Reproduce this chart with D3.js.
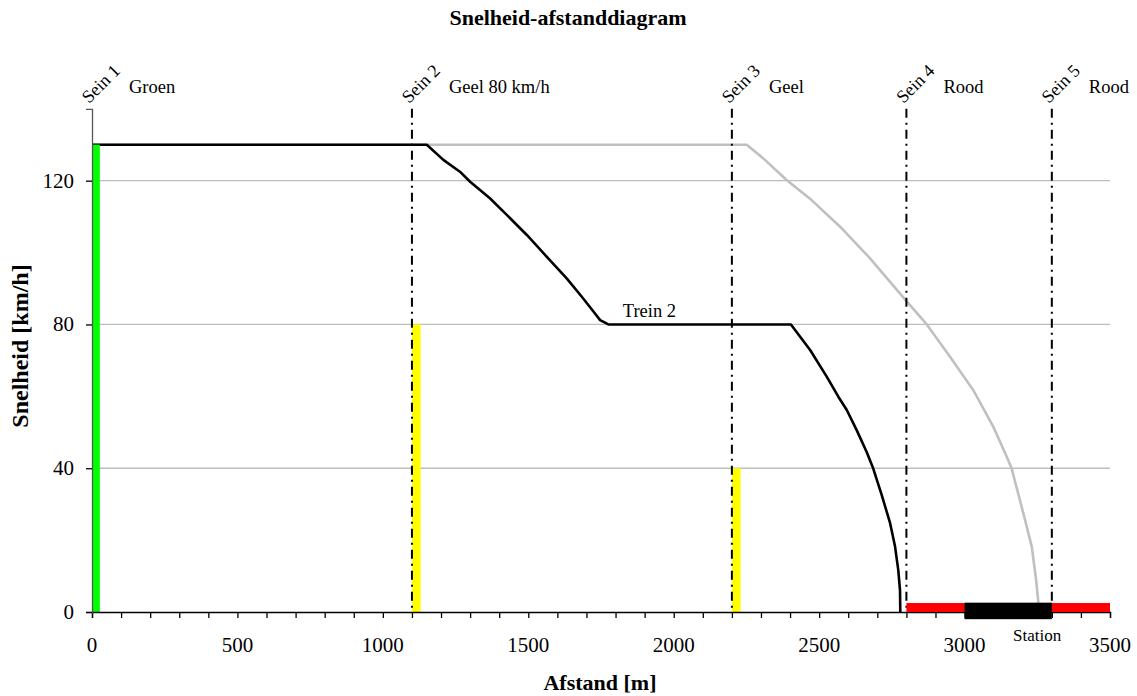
<!DOCTYPE html>
<html>
<head>
<meta charset="utf-8">
<script src="https://cdn.jsdelivr.net/npm/d3@7"></script>
<style>
  html, body { margin: 0; padding: 0; background: #ffffff; }
  svg { display: block; }
  text { font-family: "Liberation Serif", "Times New Roman", serif; fill: #000; }
</style>
</head>
<body>
<svg id="chart" width="1137" height="696"></svg>
<script>
// Snelheid-afstanddiagram: snelheid van twee treinen langs een baanvak met vijf seinen

// Trein 2 (zwart): afstand [m] en snelheid [km/h]
const trein2Afstand = [0, 1151, 1208, 1265, 1300, 1334, 1368, 1426, 1495, 1563, 1632, 1684, 1724, 1747, 1775,
  2403, 2469, 2526, 2566, 2595, 2629, 2663, 2686, 2715, 2744, 2761, 2772, 2778, 2779];
const trein2Snelheid = [130, 130, 125.8, 122.5, 119.7, 117.4, 115.1, 110.5, 104.9, 98.9, 92.8, 87.7, 83.6, 81.2, 80,
  80, 72.9, 65.5, 59.9, 56.2, 50.6, 44.6, 39.9, 32.6, 24.7, 18.2, 11.7, 6.1, 0];

// Remcurve bij ongehinderde rit (grijs)
const vrijAfstand = [0, 2251, 2308, 2388, 2474, 2572, 2675, 2798, 2870, 2950, 3030, 3099, 3145, 3162, 3208, 3231, 3246, 3254, 3256];
const vrijSnelheid = [130, 130, 126.2, 120.2, 114.6, 107.2, 98.4, 86.7, 80, 71, 61.7, 51.5, 43.2, 39.9, 25.6, 18.2, 8.9, 2.4, 0];

// Seinen
const seinAfstand = [0, 1100, 2200, 2800, 3300];
const seinNaam = ["Sein 1", "Sein 2", "Sein 3", "Sein 4", "Sein 5"];
const seinBeeld = ["Groen", "Geel 80 km/h", "Geel", "Rood", "Rood"];

// Toegestane snelheid die het sein aangeeft (gekleurde balken)
const balkVan = [0, 1100, 2200];
const balkTot = [27, 1130, 2230];
const balkSnelheid = [130, 80, 40];

// Rood spoor en station
const roodVan = 2800, roodTot = 3500, roodHoogte = 2.5;
const stationVan = 3000, stationTot = 3300, stationOnder = -2, stationBoven = 2.6;

// As-ticks
const xTicks = [0, 500, 1000, 1500, 2000, 2500, 3000, 3500];
const yTicks = [0, 40, 80, 120];

const balkKleur = ["#00ff00", "#ffff00", "#ffff00"];

const svg = d3.select("#chart");
const x = d3.scaleLinear().domain([0, 3500]).range([92, 1110]);
const y = d3.scaleLinear().domain([0, 140]).range([612, 108.8]);

// Rasterlijnen
svg.append("g").selectAll("line").data(yTicks.filter(d => d > 0)).join("line")
  .attr("x1", x(0)).attr("x2", x(3500))
  .attr("y1", d => y(d)).attr("y2", d => y(d))
  .attr("stroke", "#bdbdbd").attr("stroke-width", 1.3);

const lijn = d3.line().x(d => x(d[0])).y(d => y(d[1]));

// Grijze remcurve
svg.append("path").datum(d3.zip(vrijAfstand, vrijSnelheid))
  .attr("d", lijn).attr("fill", "none")
  .attr("stroke", "#c0c0c0").attr("stroke-width", 2.6).attr("stroke-linejoin", "round");

// Trein 2
svg.append("path").datum(d3.zip(trein2Afstand, trein2Snelheid))
  .attr("d", lijn).attr("fill", "none")
  .attr("stroke", "#000").attr("stroke-width", 2.6).attr("stroke-linejoin", "round");

svg.append("text").attr("x", x(1825)).attr("y", y(82))
  .attr("font-size", 18.5).text("Trein 2");

// Seinbalken
svg.append("g").selectAll("rect").data(d3.range(balkVan.length)).join("rect")
  .attr("x", i => x(balkVan[i]))
  .attr("width", i => x(balkTot[i]) - x(balkVan[i]))
  .attr("y", i => y(balkSnelheid[i]))
  .attr("height", i => y(0) - y(balkSnelheid[i]))
  .attr("fill", (d, i) => balkKleur[i]);

// Seinlijnen (streep-punt)
svg.append("g").selectAll("line").data(seinAfstand.slice(1)).join("line")
  .attr("x1", d => x(d)).attr("x2", d => x(d))
  .attr("y1", y(140)).attr("y2", y(0))
  .attr("stroke", "#000").attr("stroke-width", 2)
  .attr("stroke-dasharray", "9,5,2,5");

// Assen
const xAs = d3.axisBottom(x).tickValues(d3.range(0, 3501, 100)).tickSize(6).tickFormat("");
svg.append("g").attr("transform", `translate(0,${y(0)})`).call(xAs)
  .call(g => g.select(".domain").attr("stroke", "#000").attr("stroke-width", 1.3))
  .call(g => g.selectAll(".tick line").attr("stroke", "#000").attr("stroke-width", 1.3));

svg.append("g").selectAll("text").data(xTicks).join("text")
  .attr("x", d => x(d)).attr("y", 652)
  .attr("text-anchor", "middle").attr("font-size", 21).text(d => d);

const yAs = d3.axisLeft(y).tickValues(yTicks).tickSize(6).tickFormat("");
svg.append("g").attr("transform", `translate(${x(0)},0)`).call(yAs)
  .call(g => g.select(".domain").attr("stroke", "#555").attr("stroke-width", 1.3))
  .call(g => g.selectAll(".tick line").attr("stroke", "#000").attr("stroke-width", 1.3));

svg.append("g").selectAll("text").data(yTicks).join("text")
  .attr("x", 74).attr("y", d => y(d) + 7)
  .attr("text-anchor", "end").attr("font-size", 21).text(d => d);

// Rood spoor en station
svg.append("rect")
  .attr("x", x(roodVan)).attr("width", x(roodTot) - x(roodVan))
  .attr("y", y(roodHoogte)).attr("height", y(0) - y(roodHoogte))
  .attr("fill", "#ff0000");
svg.append("rect")
  .attr("x", x(stationVan)).attr("width", x(stationTot) - x(stationVan))
  .attr("y", y(stationBoven)).attr("height", y(stationOnder) - y(stationBoven))
  .attr("fill", "#000");
svg.append("text").attr("x", x((stationVan + stationTot) / 2) + 29).attr("y", 641)
  .attr("text-anchor", "middle").attr("font-size", 17).text("Station");

// Seinnamen (schuin) en seinbeelden
svg.append("g").selectAll("text").data(d3.range(seinAfstand.length)).join("text")
  .attr("transform", i => `translate(${x(seinAfstand[i]) - 3},104) rotate(-45)`)
  .attr("font-size", 18).text(i => seinNaam[i]);

svg.append("g").selectAll("text").data(d3.range(seinAfstand.length)).join("text")
  .attr("x", i => x(seinAfstand[i]) + 37).attr("y", 93)
  .attr("font-size", 18.5).text(i => seinBeeld[i]);

// Titels
svg.append("text").attr("x", 568).attr("y", 25)
  .attr("text-anchor", "middle").attr("font-size", 22).attr("font-weight", "bold")
  .text("Snelheid-afstanddiagram");

svg.append("text").attr("x", 600).attr("y", 690)
  .attr("text-anchor", "middle").attr("font-size", 22).attr("font-weight", "bold")
  .text("Afstand [m]");

svg.append("text").attr("transform", "translate(28,346) rotate(-90)")
  .attr("text-anchor", "middle").attr("font-size", 24).attr("font-weight", "bold")
  .text("Snelheid [km/h]");
</script>
</body>
</html>
